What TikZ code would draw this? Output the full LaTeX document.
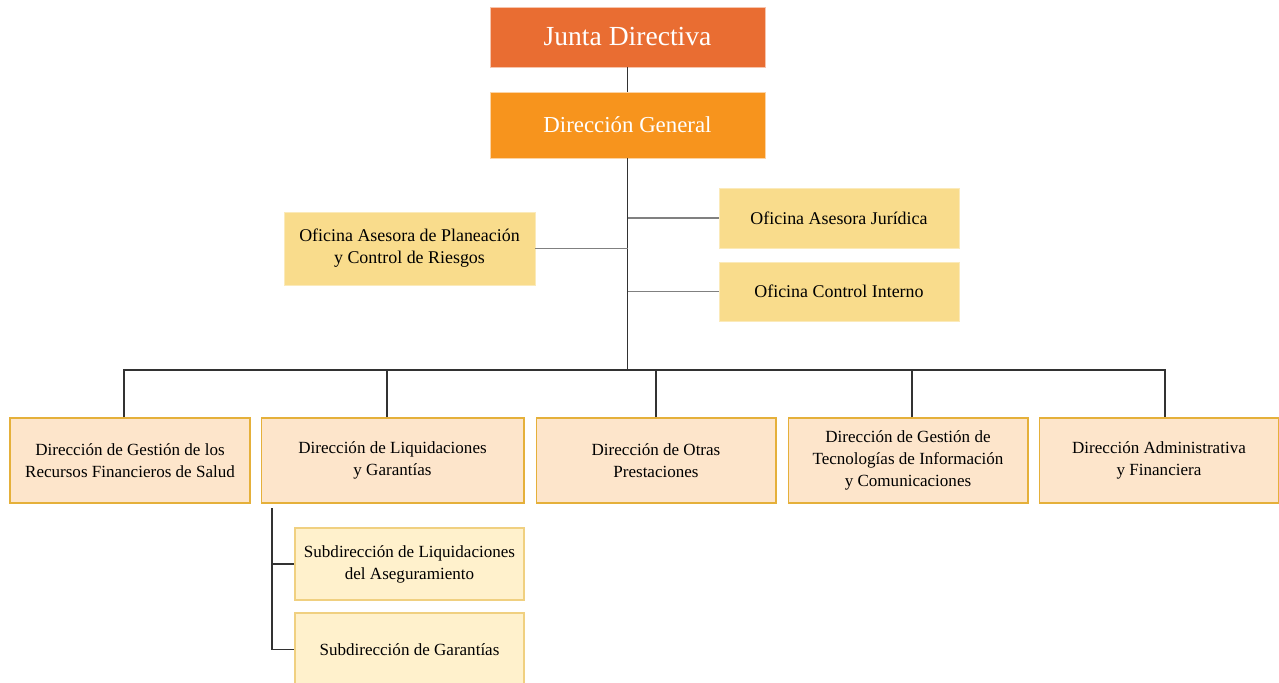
\documentclass[tikz,border=0pt]{standalone}
\usepackage{fontspec}
\setmainfont{Liberation Serif}
\usepackage{tikz}
\usetikzlibrary{positioning}

\definecolor{junta}{RGB}{233,109,50}
\definecolor{general}{RGB}{247,148,29}
\definecolor{oficina}{RGB}{249,220,140}
\definecolor{direccion}{RGB}{253,229,203}
\definecolor{dirborde}{RGB}{229,176,58}
\definecolor{subdir}{RGB}{255,241,204}
\definecolor{subborde}{RGB}{240,208,128}
\definecolor{linea}{RGB}{50,50,50}

\begin{document}
\begin{tikzpicture}[x=0.02cm, y=-0.02cm,
        top/.style={rectangle, draw=white!60!#1, fill=#1, text=white, minimum width=5.5cm, align=center},
        ofi/.style={rectangle, fill=oficina, draw=oficina!60!white, minimum width=4.8cm, align=center, font=\fontsize{10.2}{12.5}\selectfont},
        dir/.style={rectangle, fill=direccion, draw=dirborde, line width=0.6pt, minimum height=1.7cm, align=center, font=\fontsize{9.7}{12.5}\selectfont},
        sub/.style={rectangle, fill=subdir, draw=subborde, line width=0.6pt, minimum width=4.58cm, align=center, font=\fontsize{9.7}{12.5}\selectfont},
        conn/.style={draw=linea, line width=0.6pt}]
        \useasboundingbox (0,0) rectangle (1279,683);

        \node[top=junta, minimum height=1.2cm, font=\fontsize{15.7}{18}\selectfont](JUNTA) at (627.5,37){Junta Directiva};
        \node[top=general, minimum height=1.32cm, font=\fontsize{13}{15}\selectfont, below of=JUNTA, node distance=1.76cm](DIRG){Dirección General};

        \node[ofi, minimum height=1.2cm](OF1) at (839,218){Oficina Asesora Jurídica};
        \node[ofi, minimum height=1.18cm](OF2) at (839,291.5){Oficina Control Interno};
        \node[ofi, minimum width=5.02cm, minimum height=1.46cm](OF3) at (409.5,248.5){Oficina Asesora de Planeación\\y Control de Riesgos};

        \coordinate (BUS) at (627.5,370);

        \node[dir, minimum width=4.8cm](DIR1) at (130,460.5){Dirección de Gestión de los\\Recursos Financieros de Salud};
        \node[dir, minimum width=5.26cm](DIR2) at (392.5,460.5){Dirección de Liquidaciones\\y Garantías};
        \node[dir, minimum width=4.8cm](DIR3) at (656,460.5){Dirección de Otras\\Prestaciones};
        \node[dir, minimum width=4.8cm](DIR4) at (908,460.5){Dirección de Gestión de\\Tecnologías de Información\\y Comunicaciones};
        \node[dir, minimum width=4.8cm](DIR5) at (1159,460.5){Dirección Administrativa\\y Financiera};

        \node[sub, minimum height=1.44cm](SUB1) at (409.5,564){Subdirección de Liquidaciones\\del Aseguramiento};
        \node[sub, minimum height=1.46cm](SUB2) at (409.5,649.5){Subdirección de Garantías};

        \coordinate (SUBTOP) at (272,508);

        % trunk
        \draw[conn] (JUNTA.south) -- (DIRG.north);
        \draw[conn] (DIRG.south) -- (BUS);

        % oficinas
        \draw[conn, line width=1pt, draw=gray] (OF1.west) -- (OF1.west -| BUS);
        \draw[conn, line width=1pt, draw=gray] (OF2.west) -- (OF2.west -| BUS);
        \draw[conn, line width=1pt, draw=gray] (OF3.east) -- (OF3.east -| BUS);

        % direcciones
        \draw[conn] ([xshift=-0.12cm]DIR1.north) |- (BUS) -| ([xshift=0.12cm]DIR5.north);
        \draw[conn] ([xshift=-0.11cm]DIR2.north) -- ([xshift=-0.11cm]DIR2.north |- BUS);
        \draw[conn] (DIR3.north) -- (DIR3.north |- BUS);
        \draw[conn] ([xshift=0.08cm]DIR4.north) -- ([xshift=0.08cm]DIR4.north |- BUS);

        % subdirecciones
        \draw[conn] (SUBTOP) |- (SUB1.west);
        \draw[conn] (SUBTOP) |- (SUB2.west);
    \end{tikzpicture}
\end{document}
